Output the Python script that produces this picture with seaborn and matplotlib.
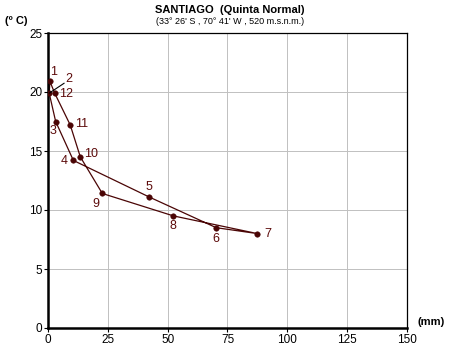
import numpy as np
import seaborn as sns
import matplotlib.pyplot as plt

# datos climograma Santiago (Quinta Normal)
meses = ['1', '2', '3', '4', '5', '6', '7', '8', '9', '10', '11', '12']
precip_mm = [0.8, 0.5, 3.2, 10.6, 42.3, 70.3, 87.5, 52.4, 22.7, 13.5, 9.3, 2.8]
temp_c = [20.9, 19.9, 17.5, 14.2, 11.1, 8.5, 8.0, 9.5, 11.4, 14.5, 17.2, 19.9]

# desplazamiento de las etiquetas (pixeles)
offsets = [(4, 9), (20, 14), (-3, -9), (-9, -1), (0, 10), (0, -11),
           (10, 0), (0, -10), (-6, -11), (11, 3), (11, 1), (11, -1)]

sns.set_theme(style="white")
plt.rcParams['font.family'] = ['Liberation Sans', 'DejaVu Sans']
plt.rcParams['text.color'] = 'black'

color = '#4a0505'
color_txt = '#5c0a0a'

fig = plt.figure(figsize=(4.6, 3.55), dpi=100)
ax = fig.add_axes([48 / 460, 27 / 355, 359 / 460, 295 / 355])

# ciclo cerrado 1 -> 12 -> 1
x = precip_mm + precip_mm[:1]
y = temp_c + temp_c[:1]
sns.lineplot(x=x, y=y, sort=False, estimator=None, color=color, lw=0.9, ax=ax)
sns.scatterplot(x=precip_mm, y=temp_c, color=color, s=16, edgecolor=color, zorder=3, ax=ax)

for i, m in enumerate(meses):
    dx, dy = offsets[i]
    ax.annotate(m, xy=(precip_mm[i], temp_c[i]), xytext=(dx, dy),
                textcoords='offset pixels', color=color_txt, fontsize=9,
                ha='center', va='center', zorder=4)

# linea guia de la etiqueta 2
i2 = meses.index('2')
ax.annotate('', xy=(precip_mm[i2], temp_c[i2]), xytext=(15, 10),
            textcoords='offset pixels', zorder=4,
            arrowprops=dict(arrowstyle='-', color='black', lw=0.8, shrinkA=0, shrinkB=0))

ax.set_xlim(0, 150)
ax.set_ylim(0, 25)
ax.set_xticks(np.arange(0, 151, 25))
ax.set_yticks(np.arange(0, 26, 5))
ax.grid(True, color='#c0c0c0', lw=0.7)
ax.tick_params(axis='both', which='both', direction='out', length=3, width=0.8,
               labelsize=8.5, pad=1, left=True, bottom=True, colors='black')
for s in ['left', 'bottom']:
    ax.spines[s].set_linewidth(1.8)
    ax.spines[s].set_color('black')
for s in ['top', 'right']:
    ax.spines[s].set_linewidth(0.9)
    ax.spines[s].set_color('black')

fig.text(230 / 460, 1 - 10 / 355, 'SANTIAGO  (Quinta Normal)', ha='center', va='center',
         fontsize=8, fontweight='bold', color='black')
fig.text(230 / 460, 1 - 22 / 355, "(33° 26' S , 70° 41' W , 520 m.s.n.m.)", ha='center',
         va='center', fontsize=6.5, color='black')
fig.text(5 / 460, 1 - 21 / 355, '(º C)', ha='left', va='center', fontsize=8,
         fontweight='bold', color='black')
fig.text(418 / 460, 1 - 322 / 355, '(mm)', ha='left', va='center', fontsize=8,
         fontweight='bold', color='black')

fig.savefig('out.png', dpi=100)
